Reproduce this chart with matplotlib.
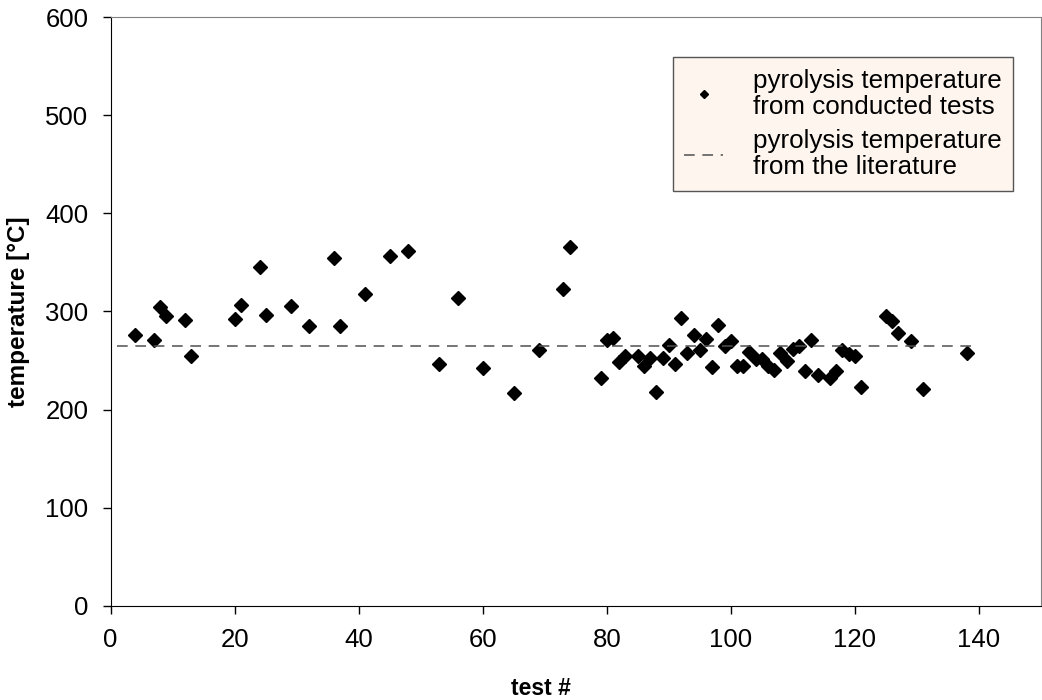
import matplotlib.pyplot as plt

plt.rcParams['font.family'] = ['Liberation Sans', 'DejaVu Sans']

# test numbers and measured pyrolysis temperatures [°C]
test_no = [4, 7, 8, 9, 12, 13, 20, 21, 24, 25, 29, 32, 36, 37, 41, 45, 48,
           53, 56, 60, 65, 69, 73, 74, 79, 80, 81, 82, 83, 85, 86, 87, 88,
           89, 90, 91, 92, 93, 94, 95, 96, 97, 98, 99, 100, 101, 102, 103,
           104, 105, 106, 107, 108, 109, 110, 111, 112, 113, 114, 116, 117,
           118, 119, 120, 121, 125, 126, 127, 129, 131, 138]
temp = [276, 271, 305, 295, 291, 255, 292, 307, 345, 296, 306, 285, 355,
        285, 318, 357, 362, 246, 314, 242, 217, 261, 323, 366, 232, 271,
        273, 249, 255, 255, 244, 253, 218, 253, 266, 246, 293, 258, 276,
        261, 272, 243, 286, 265, 270, 244, 244, 259, 252, 252, 244, 240,
        258, 250, 262, 265, 239, 271, 235, 232, 239, 261, 257, 255, 223,
        295, 290, 278, 270, 221, 258]

# literature value
lit_x = [1, 139]
lit_temp = [265, 265]

x_ticks = [0, 20, 40, 60, 80, 100, 120, 140]
y_ticks = [0, 100, 200, 300, 400, 500, 600]

fig = plt.figure(figsize=(10.42, 7.0), dpi=100)
ax = fig.add_axes([0.1062, 0.1347, 0.8928, 0.8406])

ax.plot(test_no, temp, linestyle='none', marker='D', color='black',
        markersize=7, label='pyrolysis temperature\nfrom conducted tests')
ax.plot(lit_x, lit_temp, linestyle=(0, (7, 5)), color='#505050', lw=1.1,
        label='pyrolysis temperature\nfrom the literature')

ax.set_xlim(0, 150)
ax.set_ylim(0, 600)
ax.set_xticks(x_ticks)
ax.set_yticks(y_ticks)
ax.tick_params(direction='out', length=6, width=1, labelsize=18.5, pad=10)

for side in ['top', 'right']:
    ax.spines[side].set_color('#808080')
for side in ['left', 'bottom']:
    ax.spines[side].set_color('black')

ax.set_xlabel('test #', fontsize=16.5, fontweight='bold')
ax.xaxis.set_label_coords(0.462, -0.122)
ax.set_ylabel('temperature [°C]', fontsize=17.5, fontweight='bold')
ax.yaxis.set_label_coords(-0.087, 0.5)

leg = ax.legend(loc='upper left', bbox_to_anchor=(0.59, 0.954),
                fontsize=18.7, frameon=True, fancybox=False, shadow=False,
                handlelength=1.5, handletextpad=1.15, labelspacing=0.4,
                borderpad=0.45, markerscale=0.65)
for t in leg.get_texts():
    t.set_linespacing(1.1)
leg.get_frame().set_facecolor('#FDF5EE')
leg.get_frame().set_edgecolor('#555555')
leg.get_frame().set_alpha(1)

fig.savefig('out.png', dpi=100)
